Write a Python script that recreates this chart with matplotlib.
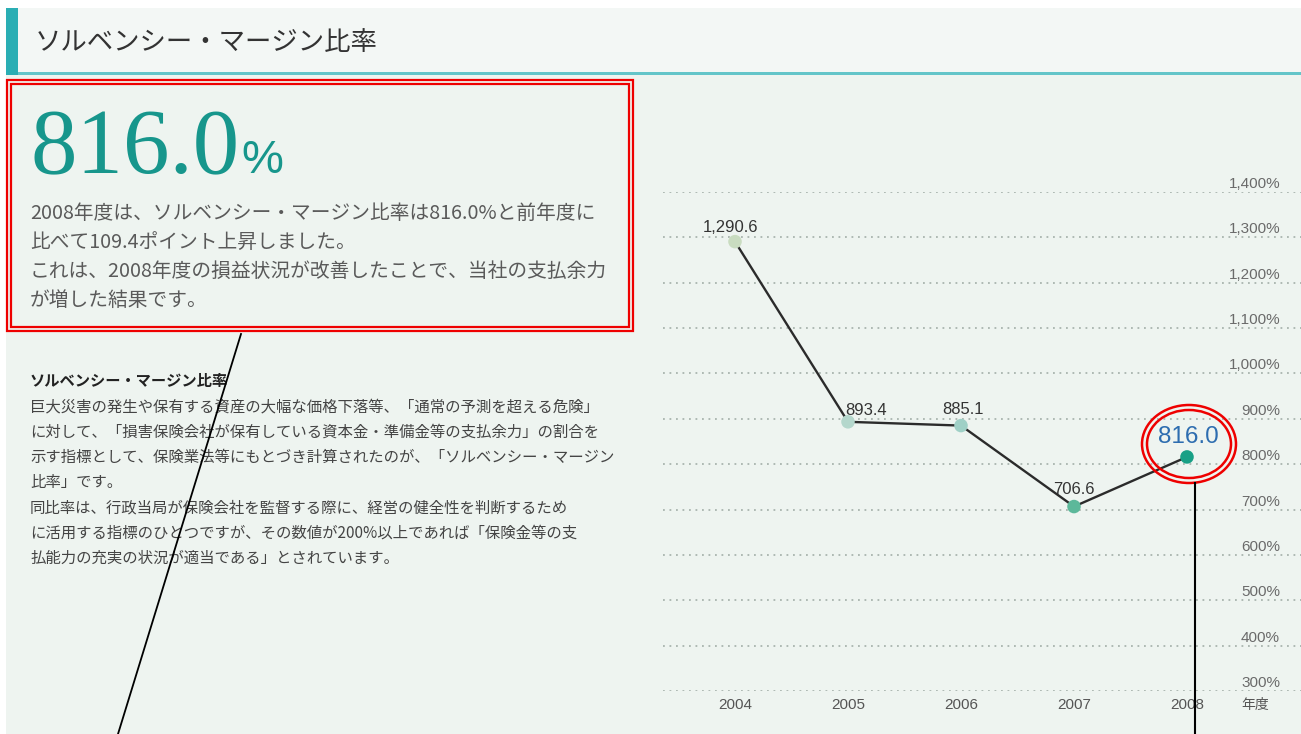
import matplotlib.pyplot as plt
from matplotlib.patches import Rectangle, Ellipse

plt.rcParams['font.family'] = ['Noto Sans CJK JP', 'DejaVu Sans']
NARROW = ['Liberation Sans Narrow', 'Liberation Sans', 'DejaVu Sans']

# data
years = ['2004', '2005', '2006', '2007', '2008']
values = [1290.6, 893.4, 885.1, 706.6, 816.0]
value_labels = ['1,290.6', '893.4', '885.1', '706.6', '816.0']
yticks = [300, 400, 500, 600, 700, 800, 900, 1000, 1100, 1200, 1300, 1400]
ytick_labels = ['300%', '400%', '500%', '600%', '700%', '800%', '900%',
                '1,000%', '1,100%', '1,200%', '1,300%', '1,400%']
marker_colors = ['#c9dcc0', '#b4d7cc', '#9fd0c6', '#5cb89a', '#18a086']
label_offsets = [(-3.5, 10), (13, 8.5), (1.5, 11.5), (0, 12), (0.8, 14)]

title = 'ソルベンシー・マージン比率'
headline_value = '816.0'
summary = ['2008年度は、ソルベンシー・マージン比率は816.0%と前年度に',
           '比べて109.4ポイント上昇しました。',
           'これは、2008年度の損益状況が改善したことで、当社の支払余力',
           'が増した結果です。']
note_title = 'ソルベンシー・マージン比率'
note = ['巨大災害の発生や保有する資産の大幅な価格下落等、「通常の予測を超える危険」',
        'に対して、「損害保険会社が保有している資本金・準備金等の支払余力」の割合を',
        '示す指標として、保険業法等にもとづき計算されたのが、「ソルベンシー・マージン',
        '比率」です。',
        '同比率は、行政当局が保険会社を監督する際に、経営の健全性を判断するため',
        'に活用する指標のひとつですが、その数値が200%以上であれば「保険金等の支',
        '払能力の充実の状況が適当である」とされています。']

W, H = 1301, 734
fig = plt.figure(figsize=(W / 100, H / 100), dpi=100)
fig.patch.set_facecolor('white')

# background layer in pixel coords
bg = fig.add_axes([0, 0, 1, 1], zorder=0)
bg.set_xlim(0, W)
bg.set_ylim(H, 0)
bg.axis('off')
bg.add_patch(Rectangle((6, 8), W, H, facecolor='#eef4f0', edgecolor='none'))
bg.add_patch(Rectangle((18, 8), W, 64, facecolor='#f3f7f5', edgecolor='none'))
bg.add_patch(Rectangle((6, 8), 12, 67, facecolor='#2aaeb4', edgecolor='none'))
bg.add_patch(Rectangle((18, 72), W, 3, facecolor='#63c5c9', edgecolor='none'))
bg.text(35, 42, title, fontsize=19, color='#333333', va='center')

big = bg.text(30, 173, headline_value, fontsize=67, color='#17968c',
              family=['Liberation Serif', 'DejaVu Serif'], va='baseline')
fig.canvas.draw()
bb = big.get_window_extent().transformed(bg.transData.inverted())
bg.text(bb.x1 + 2, 173, '%', fontsize=34, color='#17968c',
        family=['Liberation Sans', 'DejaVu Sans'], va='baseline')
for i, line in enumerate(summary):
    bg.text(30, 213 + i * 29, line, fontsize=14.2, color='#5a5a5a', va='center')

bg.text(30, 381, note_title, fontsize=11, color='#222222', va='center',
        fontweight='bold')
for i, line in enumerate(note):
    bg.text(30, 407 + i * 25.2, line, fontsize=11.1, color='#444444', va='center')

# chart axes: 300% at px 691, 1400% at px 192; index 0 at px 735
left_px, right_px, bot_px, top_px = 663, W, 691, 192
step = 113.0
ax = fig.add_axes([left_px / W, (H - bot_px) / H, (right_px - left_px) / W,
                   (bot_px - top_px) / H], zorder=1)
x0 = -(735 - left_px) / step
ax.set_xlim(x0, x0 + (right_px - left_px) / step)
ax.set_ylim(300, 1400)
ax.patch.set_alpha(0)
ax.axis('off')
ypx = (1400 - 300) / (bot_px - top_px)

for v, lab in zip(yticks, ytick_labels):
    ax.axhline(v, color='#a9b4ae', lw=1.3, ls=(0, (1, 2.6)), zorder=1)
    ax.text(x0 + (1280 - left_px) / step, v + 8 * ypx, lab, ha='right',
            va='center', fontsize=11, color='#6a6a6a', family=NARROW)

xs = list(range(len(years)))
ax.plot(xs, values, color='#2b2b2b', lw=1.7, zorder=2)
ax.scatter(xs, values, s=95, c=marker_colors, zorder=3, edgecolors='none')

for i, (x, v, lab) in enumerate(zip(xs, values, value_labels)):
    last = i == len(xs) - 1
    ax.annotate(lab, (x, v), xytext=label_offsets[i], textcoords='offset points',
                ha='center', va='center', family=NARROW,
                fontsize=17.5 if last else 12,
                color='#2d6db0' if last else '#333333')

for x, y in zip(xs, years):
    ax.text(x, 300 - 14 * ypx, y, ha='center', va='center', fontsize=11,
            color='#555555', family=NARROW, clip_on=False)
ax.text(x0 + (1255 - left_px) / step, 300 - 14 * ypx, '年度', ha='center',
        va='center', fontsize=10, color='#555555', clip_on=False)

# overlay annotations
ov = fig.add_axes([0, 0, 1, 1], zorder=2)
ov.set_xlim(0, W)
ov.set_ylim(H, 0)
ov.axis('off')
ov.patch.set_alpha(0)
ov.add_patch(Rectangle((7, 80), 626, 251, fill=False, edgecolor='#ee0000', lw=1.6))
ov.add_patch(Rectangle((11, 84), 618, 243, fill=False, edgecolor='#ee0000', lw=1.6))
ov.add_patch(Ellipse((1189, 444), 94, 78, fill=False, edgecolor='#ee0000', lw=1.8))
ov.add_patch(Ellipse((1189, 444), 84, 68, fill=False, edgecolor='#ee0000', lw=1.8))
ov.plot([241, 118], [334, 734], color='black', lw=1.3)
ov.plot([1195, 1195], [483, 734], color='black', lw=1.5)

fig.savefig('out.png', dpi=100)
